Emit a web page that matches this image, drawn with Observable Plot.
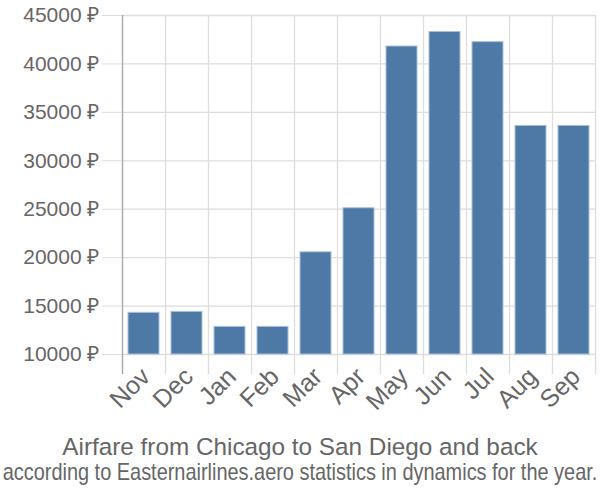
<!DOCTYPE html>
<html>
<head>
<meta charset="utf-8">
<script src="https://cdn.jsdelivr.net/npm/d3@7"></script>
<script src="https://cdn.jsdelivr.net/npm/@observablehq/plot@0.6"></script>
<style>
  body { margin: 0; background: #fff; font-family: 'Liberation Sans', Arial, sans-serif; }
  #chart { width: 600px; height: 500px; overflow: hidden; }
  #chart svg { display: block; }
  .title { text-align: center; color: #666; font-size: 24.3px; line-height: 24px; margin-top: 10px; white-space: nowrap; }
  .subtitle { position: relative; left: 300px; width: max-content; color: #666; font-size: 24px; line-height: 22px; margin-top: 2px; white-space: nowrap; transform: translateX(-50%) scaleX(0.83); transform-origin: 50% 50%; }
</style>
</head>
<body>
<div id="chart"></div>
<script>
const months = ["Nov", "Dec", "Jan", "Feb", "Mar", "Apr", "May", "Jun", "Jul", "Aug", "Sep"];
const prices = [14300, 14400, 12850, 12850, 20550, 25100, 41800, 43300, 42250, 33600, 33600];
const yTicks = [10000, 15000, 20000, 25000, 30000, 35000, 40000, 45000];
const titleText = "Airfare from Chicago to San Diego and back";
const subtitleText = "according to Easternairlines.aero statistics in dynamics for the year.";

const data = months.map((m, i) => ({ m, i, v: prices[i] }));
const bounds = d3.range(months.length + 1);

const plot = Plot.plot({
  width: 600,
  height: 425,
  marginLeft: 122,
  marginRight: 5,
  marginTop: 15,
  marginBottom: 71,
  x: { type: "linear", domain: [0, months.length], axis: null },
  y: { domain: [10000, 45000] },
  style: { fontFamily: "'Liberation Sans', Arial, sans-serif", fontSize: "21px", color: "#666", background: "#fff" },
  marks: [
    Plot.gridY(yTicks, { stroke: "#ddd", strokeOpacity: 1, strokeWidth: 1.3 }),
    Plot.ruleX(bounds, { stroke: "#ddd", strokeWidth: 1.3, insetBottom: -20 }),
    Plot.ruleX([0], { stroke: "#aaa", strokeWidth: 1.3, insetBottom: -20 }),
    Plot.rect(data, {
      x1: "i", x2: d => d.i + 1, y1: 10000, y2: "v",
      insetLeft: 6, insetRight: 6,
      fill: "#4e79a7", stroke: "#a9c0dd", strokeWidth: 1
    }),
    Plot.axisY(yTicks, {
      tickSize: 20, tickPadding: 3, stroke: "#ddd", fill: "#666",
      tickFormat: d => d + " ₽", label: null
    }),
    Plot.text(data, {
      x: d => d.i + 0.5, y: 10000, text: "m",
      rotate: -45, textAnchor: "end", lineAnchor: "top",
      fontSize: 25, fill: "#666", dx: -5, dy: 11
    })
  ]
});
document.getElementById("chart").appendChild(plot);
const t = document.createElement("div"); t.className = "title"; t.textContent = titleText;
const s = document.createElement("div"); s.className = "subtitle"; s.textContent = subtitleText;
document.getElementById("chart").appendChild(t);
document.getElementById("chart").appendChild(s);
</script>
</body>
</html>
